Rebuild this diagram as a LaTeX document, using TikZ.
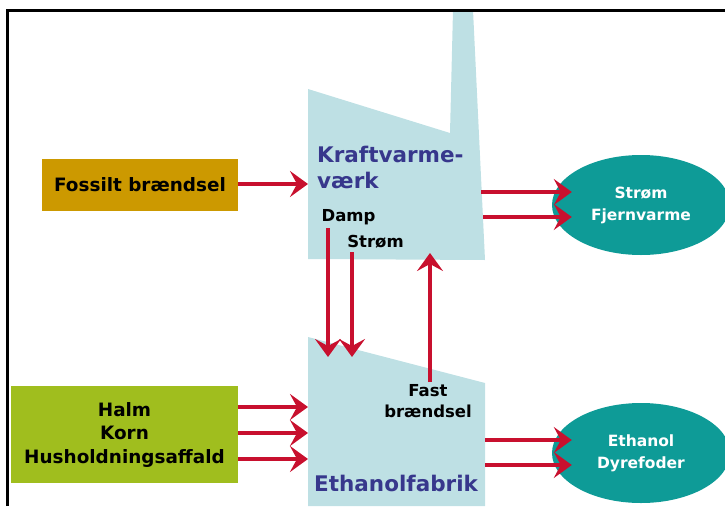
\documentclass[tikz,border=0pt]{standalone}
\usepackage{fontspec}
\setmainfont{DejaVu Sans}
\usetikzlibrary{arrows.meta, positioning, shapes.geometric}
\definecolor{plantblue}{HTML}{BEE0E4}
\definecolor{plantink}{HTML}{37378C}
\definecolor{fossilgold}{HTML}{CC9900}
\definecolor{biogreen}{HTML}{A0BE1E}
\definecolor{productteal}{HTML}{0E9B97}
\definecolor{flowred}{HTML}{C8102E}

\begin{document}
\begin{tikzpicture}[
  x=1pt, y=-1pt,
  source/.style={rectangle, inner sep=0pt, align=center, font=\fontsize{18.4}{23.5}\selectfont\bfseries},
  product/.style={ellipse, fill=productteal, text=white, inner sep=0pt, minimum width=178pt, minimum height=100pt, align=center, font=\fontsize{15.5}{22}\selectfont\bfseries},
  plantname/.style={inner sep=0pt, align=left, text=plantink, font=\fontsize{21.5}{26}\selectfont\bfseries},
  tag/.style={inner sep=0pt, align=center, font=\fontsize{16.5}{21}\selectfont\bfseries},
  flow/.style={draw=flowred, line width=3.5pt, -{Stealth[length=18pt, width=26pt, inset=7pt]}},
]
\useasboundingbox (0,0) rectangle (725,506);
\fill[plantblue] (308,89) -- (450,133) -- (453,10) -- (473,10) -- (485,260) -- (308,259) -- cycle;
\fill[plantblue] (308,337) -- (485,383) -- (485,506) -- (308,506) -- cycle;
\node[source, fill=fossilgold, minimum width=196pt, minimum height=52pt] (fossil) at (140,185) {Fossilt brændsel};
\node[source, fill=biogreen, minimum width=227pt, minimum height=97pt] (biomass) at (124.5,434.5) {Halm\\Korn\\Husholdningsaffald};
\node[product] (heatpower) at (641,205) {Strøm\\Fjernvarme};
\node[product] (ethfeed) at (641,453) {Ethanol\\Dyrefoder};
\node[plantname, anchor=west] (kvvname) at (317,167) {Kraftvarme-\\værk};
\node[plantname, anchor=west] (ethname) at (314,483) {Ethanolfabrik};
\node[tag] (damp) at (348.5,217) {Damp};
\node[tag] (power) at (375.5,242) {Strøm};
\node[tag] (solid) at (428,401.5) {Fast\\brændsel};
\coordinate (kvvIn) at (308,184);
\coordinate (kvvOut1) at (481,192);
\coordinate (kvvOut2) at (483,217);
\coordinate (heatIn1) at ([xshift=20pt]kvvOut1 -| heatpower.west);
\coordinate (heatIn2) at ([xshift=20pt]kvvOut2 -| heatpower.west);
\coordinate (ethIn1) at (308,407);
\coordinate (ethIn2) at (308,433);
\coordinate (ethIn3) at (308,459);
\coordinate (ethOut1) at (485,440);
\coordinate (ethOut2) at (485,465);
\coordinate (feedIn1) at ([xshift=20pt]ethOut1 -| ethfeed.west);
\coordinate (feedIn2) at ([xshift=20pt]ethOut2 -| ethfeed.west);
\coordinate (dampTop) at (328,228);
\coordinate (dampTip) at (328,357);
\coordinate (powerTop) at (352,252);
\coordinate (powerTip) at (352,357);
\coordinate (solidTop) at (430,382);
\coordinate (solidTip) at (430,253);
\draw[flow] (fossil.east |- kvvIn) -- (kvvIn);
\draw[flow] (kvvOut1) -- (heatIn1);
\draw[flow] (kvvOut2) -- (heatIn2);
\draw[flow] (biomass.east |- ethIn1) -- (ethIn1);
\draw[flow] (biomass.east |- ethIn2) -- (ethIn2);
\draw[flow] (biomass.east |- ethIn3) -- (ethIn3);
\draw[flow] (ethOut1) -- (feedIn1);
\draw[flow] (ethOut2) -- (feedIn2);
\draw[flow] (dampTop) -- (dampTip);
\draw[flow] (powerTop) -- (powerTip);
\draw[flow] (solidTop) -- (solidTip);
\draw[line width=2.6pt] (7.5,506) -- (7.5,10.5) -- (725,10.5);
\end{tikzpicture}
\end{document}
